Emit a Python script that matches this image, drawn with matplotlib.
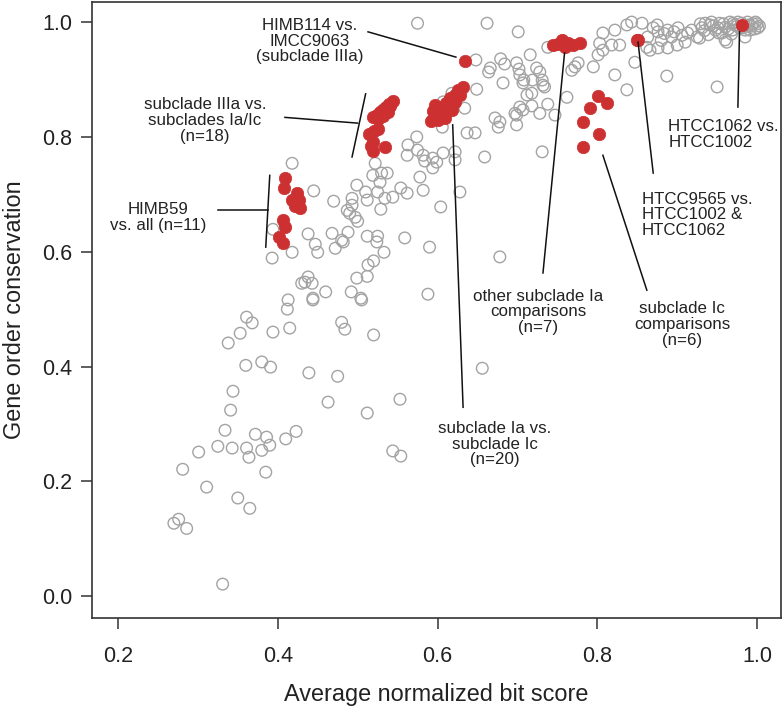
import matplotlib
matplotlib.use("Agg")
import matplotlib.pyplot as plt

plt.rcParams['font.family'] = ['Liberation Sans', 'DejaVu Sans']

# all pairwise genome comparisons (gray open circles)
gray_x = [0.331, 0.270, 0.276, 0.286, 0.350, 0.365, 0.311, 0.281, 0.385, 0.301,
          0.325, 0.343, 0.361, 0.364, 0.380, 0.372, 0.386, 0.390, 0.410, 0.423,
          0.334, 0.341, 0.344, 0.360, 0.380, 0.391, 0.439, 0.475, 0.463, 0.512,
          0.553, 0.544, 0.554, 0.338, 0.353, 0.361, 0.368, 0.394, 0.415, 0.412,
          0.413, 0.444, 0.480, 0.484, 0.520, 0.505, 0.588, 0.656, 0.678, 0.393,
          0.418, 0.394, 0.438, 0.447, 0.450, 0.468, 0.472, 0.480, 0.488, 0.482,
          0.430, 0.438, 0.443, 0.434, 0.460, 0.444, 0.492, 0.504, 0.499, 0.512,
          0.513, 0.520, 0.533, 0.524, 0.525, 0.512, 0.559, 0.590, 0.418, 0.445,
          0.470, 0.487, 0.493, 0.493, 0.499, 0.510, 0.512, 0.497, 0.500, 0.490,
          0.522, 0.519, 0.530, 0.537, 0.528, 0.525, 0.534, 0.544, 0.554, 0.562,
          0.529, 0.582, 0.578, 0.563, 0.562, 0.574, 0.575, 0.582, 0.594, 0.575,
          0.604, 0.628, 0.584, 0.594, 0.599, 0.607, 0.622, 0.622, 0.659, 0.606,
          0.637, 0.647, 0.634, 0.607, 0.618, 0.649, 0.682, 0.707, 0.672, 0.676,
          0.699, 0.697, 0.707, 0.718, 0.728, 0.738, 0.747, 0.712, 0.718, 0.732,
          0.731, 0.762, 0.837, 0.822, 0.887, 0.950, 0.847, 0.662, 0.701, 0.648,
          0.679, 0.684, 0.666, 0.664, 0.699, 0.702, 0.716, 0.724, 0.728, 0.703,
          0.708, 0.719, 0.731, 0.734, 0.703, 0.699, 0.678, 0.738, 0.768, 0.772,
          0.776, 0.795, 0.807, 0.803, 0.801, 0.807, 0.822, 0.818, 0.837, 0.843,
          0.856, 0.875, 0.876, 0.888, 0.901, 0.893, 0.906, 0.913, 0.925, 0.935,
          0.941, 0.953, 0.960, 0.928, 0.910, 0.900, 0.888, 0.876, 0.866, 0.828,
          0.863, 0.862, 0.985, 0.962, 0.966, 0.972, 0.978, 0.988, 0.993, 0.998,
          1.001, 0.985, 0.976, 0.960, 0.948, 0.943, 1.000, 0.991, 0.969, 0.956,
          0.931, 0.918, 0.532, 0.929, 0.934, 0.945, 0.951, 0.958, 0.964, 0.970,
          0.975, 0.981, 0.983, 0.990, 0.995, 0.997, 1.003, 0.939, 0.952, 0.968,
          0.880, 0.884, 0.896, 0.870]
gray_y = [0.021, 0.127, 0.134, 0.118, 0.171, 0.153, 0.190, 0.221, 0.216, 0.251,
          0.261, 0.258, 0.258, 0.242, 0.254, 0.282, 0.277, 0.263, 0.274, 0.287,
          0.289, 0.324, 0.357, 0.402, 0.408, 0.399, 0.389, 0.383, 0.338, 0.319,
          0.343, 0.253, 0.244, 0.441, 0.458, 0.486, 0.476, 0.460, 0.467, 0.500,
          0.516, 0.516, 0.477, 0.465, 0.455, 0.516, 0.526, 0.397, 0.591, 0.589,
          0.599, 0.639, 0.631, 0.613, 0.599, 0.632, 0.606, 0.620, 0.634, 0.617,
          0.545, 0.556, 0.545, 0.547, 0.530, 0.519, 0.530, 0.519, 0.554, 0.557,
          0.577, 0.584, 0.599, 0.617, 0.627, 0.627, 0.624, 0.608, 0.754, 0.706,
          0.688, 0.672, 0.681, 0.693, 0.716, 0.704, 0.690, 0.660, 0.653, 0.667,
          0.754, 0.733, 0.737, 0.737, 0.721, 0.704, 0.693, 0.695, 0.711, 0.702,
          0.674, 0.707, 0.730, 0.786, 0.768, 0.800, 0.777, 0.768, 0.763, 0.998,
          0.678, 0.704, 0.758, 0.746, 0.756, 0.772, 0.774, 0.760, 0.765, 0.817,
          0.807, 0.807, 0.850, 0.861, 0.876, 0.883, 0.894, 0.894, 0.833, 0.817,
          0.821, 0.841, 0.847, 0.854, 0.841, 0.857, 0.838, 0.873, 0.876, 0.890,
          0.774, 0.869, 0.882, 0.908, 0.906, 0.887, 0.930, 0.998, 0.983, 0.934,
          0.936, 0.927, 0.920, 0.913, 0.929, 0.918, 0.943, 0.920, 0.913, 0.908,
          0.899, 0.899, 0.899, 0.887, 0.852, 0.838, 0.826, 0.956, 0.916, 0.922,
          0.929, 0.922, 0.981, 0.963, 0.943, 0.951, 0.986, 0.960, 0.995, 1.000,
          0.998, 0.995, 0.983, 0.986, 0.990, 0.974, 0.977, 0.981, 0.974, 0.998,
          0.995, 0.998, 0.969, 0.972, 0.965, 0.960, 0.955, 0.955, 0.951, 0.960,
          0.974, 0.956, 0.974, 0.965, 1.000, 0.995, 0.990, 1.000, 0.993, 1.000,
          0.990, 0.986, 1.000, 0.991, 0.986, 1.000, 0.997, 0.986, 0.986, 0.981,
          0.990, 0.986, 0.847, 0.997, 0.985, 0.993, 0.990, 0.997, 0.988, 0.998,
          0.993, 0.998, 0.990, 0.995, 0.997, 0.988, 0.993, 0.978, 0.981, 0.979,
          0.968, 0.980, 0.983, 0.990]

# highlighted groups (red filled circles)
himb59_x = [0.409, 0.408, 0.424, 0.418, 0.427, 0.422, 0.428, 0.407, 0.409, 0.401, 0.407]
himb59_y = [0.728, 0.711, 0.702, 0.690, 0.690, 0.679, 0.676, 0.655, 0.643, 0.625, 0.615]

iiia_x = [0.544, 0.539, 0.540, 0.535, 0.532, 0.528, 0.524, 0.519, 0.525, 0.532,
          0.538, 0.520, 0.525, 0.514, 0.519, 0.534, 0.519, 0.517]
iiia_y = [0.862, 0.857, 0.854, 0.852, 0.847, 0.843, 0.838, 0.834, 0.831, 0.836,
          0.843, 0.810, 0.814, 0.805, 0.791, 0.782, 0.775, 0.784]

ia_ic_x = [0.632, 0.626, 0.622, 0.628, 0.616, 0.622, 0.611, 0.616, 0.607, 0.611,
           0.603, 0.599, 0.605, 0.595, 0.600, 0.592, 0.594, 0.597, 0.609, 0.618]
ia_ic_y = [0.887, 0.882, 0.873, 0.873, 0.868, 0.861, 0.859, 0.854, 0.850, 0.845,
           0.843, 0.838, 0.836, 0.833, 0.829, 0.828, 0.845, 0.855, 0.833, 0.847]

ia_other_x = [0.744, 0.751, 0.756, 0.759, 0.763, 0.769, 0.778]
ia_other_y = [0.960, 0.962, 0.969, 0.956, 0.963, 0.960, 0.963]

ic_x = [0.801, 0.812, 0.791, 0.782, 0.802, 0.782]
ic_y = [0.871, 0.859, 0.850, 0.826, 0.805, 0.782]

single_x = [0.634, 0.850, 0.851, 0.981]  # HIMB114/IMCC9063, HTCC9565 (x2), HTCC1062/HTCC1002
single_y = [0.932, 0.969, 0.968, 0.995]

red_x = himb59_x + iiia_x + ia_ic_x + ia_other_x + ic_x + single_x
red_y = himb59_y + iiia_y + ia_ic_y + ia_other_y + ic_y + single_y

# callouts: text, text position, alignment, leader line segments
callouts = [
    ("HIMB114 vs.\nIMCC9063\n(subclade IIIa)", 0.440, 0.967, "center",
     [((0.513, 0.623), (0.983, 0.939))]),
    ("subclade IIIa vs.\nsubclades Ia/Ic\n(n=18)", 0.309, 0.828, "center",
     [((0.510, 0.493), (0.875, 0.765)), ((0.409, 0.500), (0.834, 0.824))]),
    ("HIMB59\nvs. all (n=11)", 0.250, 0.659, "center",
     [((0.390, 0.385), (0.733, 0.608)), ((0.325, 0.388), (0.672, 0.672))]),
    ("subclade Ia vs.\nsubclade Ic\n(n=20)", 0.672, 0.265, "center",
     [((0.619, 0.632), (0.821, 0.329))]),
    ("other subclade Ia\ncomparisons\n(n=7)", 0.726, 0.495, "center",
     [((0.759, 0.732), (0.946, 0.563))]),
    ("subclade Ic\ncomparisons\n(n=6)", 0.906, 0.474, "center",
     [((0.807, 0.862), (0.768, 0.533))]),
    ("HTCC9565 vs.\nHTCC1002 &\nHTCC1062", 0.856, 0.664, "left",
     [((0.851, 0.870), (0.965, 0.737))]),
    ("HTCC1062 vs.\nHTCC1002", 0.889, 0.804, "left",
     [((0.978, 0.976), (0.983, 0.852))]),
]

fig = plt.figure(figsize=(7.83, 7.10), dpi=100)
ax = fig.add_axes([0.1175, 0.1296, 0.880, 0.8676])

ax.scatter(gray_x, gray_y, s=70, facecolors='none', edgecolors='#a3a3a3',
           linewidths=1.0, zorder=2)
ax.scatter(red_x, red_y, s=80, color='#cc3030', edgecolors='#cc3030',
           linewidths=0.5, zorder=3)

for text, tx, ty, ha, segs in callouts:
    ax.text(tx, ty, text, ha=ha, va='center', fontsize=12.2, color='#222222',
            linespacing=1.08, zorder=4)
    for xs, ys in segs:
        ax.plot(xs, ys, color='#111111', lw=1.1, zorder=4)

ax.set_xlim(0.1675, 1.030)
ax.set_ylim(-0.038, 1.035)
ax.set_xticks([0.2, 0.4, 0.6, 0.8, 1.0])
ax.set_yticks([0.0, 0.2, 0.4, 0.6, 0.8, 1.0])
ax.set_xticklabels(["0.2", "0.4", "0.6", "0.8", "1.0"])
ax.set_yticklabels(["0.0", "0.2", "0.4", "0.6", "0.8", "1.0"])
ax.tick_params(axis='both', length=8, width=1.1, color='#333333',
               labelsize=15.5, labelcolor='#222222')
ax.tick_params(axis='x', pad=12)
ax.tick_params(axis='y', pad=6)
for sp in ax.spines.values():
    sp.set_linewidth(1.2)
    sp.set_color('#333333')

ax.set_xlabel("Average normalized bit score", fontsize=16.9, color='#222222', labelpad=12)
ax.set_ylabel("Gene order conservation", fontsize=16.9, color='#222222', labelpad=12)

fig.savefig("out.png", dpi=100)
